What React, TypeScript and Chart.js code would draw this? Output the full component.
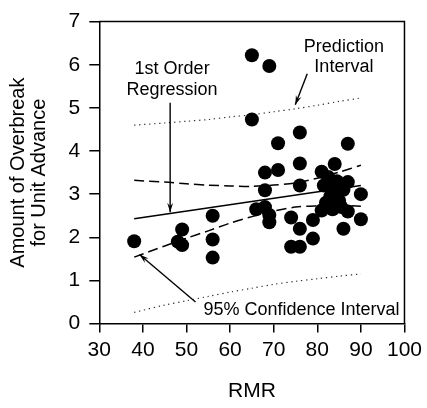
import React, { useEffect, useRef } from "react";
import { Chart, registerables } from "chart.js";

Chart.register(...registerables);

// ---- data ----
const rmr = [
  38, 48, 49, 49, 56, 56, 56, 65, 65, 66, 68, 68, 68, 69, 69, 69, 71, 71, 74, 74,
  76, 76, 76, 76, 76, 79, 79, 81, 81, 81.5, 82, 82.5, 83, 83.5, 83.5, 84, 84.5,
  85, 85.5, 86, 86, 87, 87, 87, 90, 90,
];
const overbreak = [
  1.91, 1.9, 2.18, 1.82, 2.5, 1.95, 1.53, 6.22, 4.73, 2.65, 3.5, 3.09, 2.7, 5.97,
  2.52, 2.35, 4.18, 3.56, 2.46, 1.78, 4.43, 3.71, 3.2, 2.2, 1.78, 2.4, 1.97, 3.52,
  2.62, 3.2, 2.8, 3.4, 2.95, 3.1, 2.65, 3.7, 3.3, 2.85, 2.7, 3.1, 2.2, 4.17, 3.28,
  2.6, 3.0, 2.42,
];

const regressionX = [38, 90];
const regressionY = [2.43, 3.2];

const bandX = [38, 45, 50, 55, 60, 65, 70, 75, 80, 85, 90];
const confUpper = [3.32, 3.28, 3.24, 3.21, 3.19, 3.18, 3.21, 3.26, 3.37, 3.51, 3.67];
const confLower = [1.54, 1.8, 1.98, 2.15, 2.33, 2.48, 2.61, 2.7, 2.73, 2.74, 2.72];
const predUpper = [4.6, 4.65, 4.69, 4.73, 4.79, 4.84, 4.91, 4.98, 5.06, 5.15, 5.23];
const predLower = [0.26, 0.43, 0.53, 0.63, 0.73, 0.82, 0.91, 0.98, 1.04, 1.1, 1.15];

const xTickValues = [30, 40, 50, 60, 70, 80, 90, 100];
const yTickValues = [0, 1, 2, 3, 4, 5, 6, 7];

const xTitle = "RMR";
const yTitle = ["Amount of Overbreak", "for Unit Advance"];

const noteTexts = {
  prediction: ["Prediction", "Interval"],
  regression: ["1st Order", "Regression"],
  confidence: ["95% Confidence Interval"],
};

// ---- presentation ----
const FONT = '"Liberation Sans", Arial, Helvetica, sans-serif';

const notes = [
  { lines: noteTexts.prediction, x: 86.1, y: 6.3, align: "center", gap: 20.5 },
  { lines: noteTexts.regression, x: 46.7, y: 5.79, align: "center", gap: 21.5 },
  { lines: noteTexts.confidence, x: 53.9, y: 0.2, align: "left", gap: 20 },
];

const arrows = [
  { from: [77.7, 5.79], to: [74.95, 5.07] },
  { from: [46.25, 5.12], to: [46.25, 2.58] },
  { from: [52.07, 0.5], to: [39.22, 1.6] },
];

const toPoints = (xs: number[], ys: number[]) => xs.map((x, i) => ({ x, y: ys[i] }));

const notesPlugin = {
  id: "notes",
  afterDatasetsDraw(chart: any) {
    const { ctx, scales, chartArea } = chart;
    const xs = scales.x;
    const ys = scales.y;
    ctx.save();
    // frame top/right
    ctx.strokeStyle = "#000";
    ctx.lineWidth = 1.5;
    ctx.beginPath();
    ctx.moveTo(chartArea.left, chartArea.top);
    ctx.lineTo(chartArea.right, chartArea.top);
    ctx.lineTo(chartArea.right, chartArea.bottom);
    ctx.stroke();

    ctx.fillStyle = "#000";
    ctx.font = `18px ${FONT}`;
    ctx.textBaseline = "alphabetic";
    for (const n of notes) {
      ctx.textAlign = n.align;
      const px = xs.getPixelForValue(n.x);
      const py = ys.getPixelForValue(n.y);
      n.lines.forEach((t, i) => ctx.fillText(t, px, py + i * n.gap));
    }

    ctx.lineWidth = 1.4;
    for (const a of arrows) {
      const x0 = xs.getPixelForValue(a.from[0]);
      const y0 = ys.getPixelForValue(a.from[1]);
      const x1 = xs.getPixelForValue(a.to[0]);
      const y1 = ys.getPixelForValue(a.to[1]);
      ctx.beginPath();
      ctx.moveTo(x0, y0);
      ctx.lineTo(x1, y1);
      ctx.stroke();
      const ang = Math.atan2(y1 - y0, x1 - x0);
      const len = 10;
      const spread = 0.3;
      ctx.beginPath();
      ctx.moveTo(x1, y1);
      ctx.lineTo(x1 - len * Math.cos(ang - spread), y1 - len * Math.sin(ang - spread));
      ctx.lineTo(x1 - len * 0.6 * Math.cos(ang), y1 - len * 0.6 * Math.sin(ang));
      ctx.lineTo(x1 - len * Math.cos(ang + spread), y1 - len * Math.sin(ang + spread));
      ctx.closePath();
      ctx.fill();
    }
    ctx.restore();
  },
};

export default function App() {
  const ref = useRef<HTMLCanvasElement | null>(null);

  useEffect(() => {
    if (!ref.current) return;
    Chart.defaults.font.family = FONT;
    const lineBase = {
      showLine: true,
      pointRadius: 0,
      borderColor: "#000",
      backgroundColor: "#000",
      fill: false,
      tension: 0.3,
    };
    const chart = new Chart(ref.current, {
      type: "scatter",
      data: {
        datasets: [
          {
            label: "data",
            data: toPoints(rmr, overbreak),
            pointRadius: 7,
            pointHoverRadius: 7,
            backgroundColor: "#000",
            borderWidth: 0,
            order: 0,
          },
          { ...lineBase, label: "regression", data: toPoints(regressionX, regressionY), borderWidth: 1.6, tension: 0, order: 1 },
          { ...lineBase, label: "ci upper", data: toPoints(bandX, confUpper), borderWidth: 1.5, borderDash: [10, 5], order: 2 },
          { ...lineBase, label: "ci lower", data: toPoints(bandX, confLower), borderWidth: 1.5, borderDash: [10, 5], order: 3 },
          { ...lineBase, label: "pi upper", data: toPoints(bandX, predUpper), borderWidth: 1.2, borderDash: [1.3, 3.7], borderColor: "#333", order: 4 },
          { ...lineBase, label: "pi lower", data: toPoints(bandX, predLower), borderWidth: 1.2, borderDash: [1.3, 3.7], borderColor: "#333", order: 5 },
        ] as any,
      },
      options: {
        animation: false,
        responsive: false,
        devicePixelRatio: 1,
        layout: { padding: { top: 15, right: 18.7, left: 0, bottom: 0 } },
        plugins: { legend: { display: false }, tooltip: { enabled: false } },
        scales: {
          x: {
            type: "linear",
            min: 30,
            max: 100,
            afterBuildTicks: (axis: any) => {
              axis.ticks = xTickValues.map((v) => ({ value: v }));
            },
            afterFit: (axis: any) => {
              axis.height = 84.4;
            },
            ticks: {
              color: "#000",
              font: { size: 21, lineHeight: 1.2 },
              padding: 5,
              maxRotation: 0,
            },
            grid: { drawOnChartArea: false, drawTicks: true, tickLength: 9, color: "#000", lineWidth: 1.5 },
            border: { display: true, color: "#000", width: 1.5 },
            title: {
              display: true,
              text: xTitle,
              color: "#000",
              font: { size: 21, lineHeight: 1.2 },
              padding: { top: 0, bottom: 4 },
            },
          },
          y: {
            type: "linear",
            min: 0,
            max: 7,
            afterBuildTicks: (axis: any) => {
              axis.ticks = yTickValues.map((v) => ({ value: v }));
            },
            afterFit: (axis: any) => {
              axis.width = 99.3;
            },
            ticks: {
              color: "#000",
              font: { size: 21, lineHeight: 1.2 },
              padding: 9,
            },
            grid: { drawOnChartArea: false, drawTicks: true, tickLength: 10, color: "#000", lineWidth: 1.5 },
            border: { display: true, color: "#000", width: 1.5 },
            title: {
              display: true,
              text: yTitle,
              color: "#000",
              font: { size: 20, lineHeight: 1.05 },
              padding: { top: 8, bottom: 0 },
            },
          },
        },
      } as any,
      plugins: [notesPlugin as any],
    });
    return () => chart.destroy();
  }, []);

  return (
    <div style={{ position: "absolute", left: 0, top: 0, width: 427, height: 408, background: "#fff" }}>
      <canvas ref={ref} width={427} height={408} style={{ display: "block", width: 427, height: 408 }} />
    </div>
  );
}
